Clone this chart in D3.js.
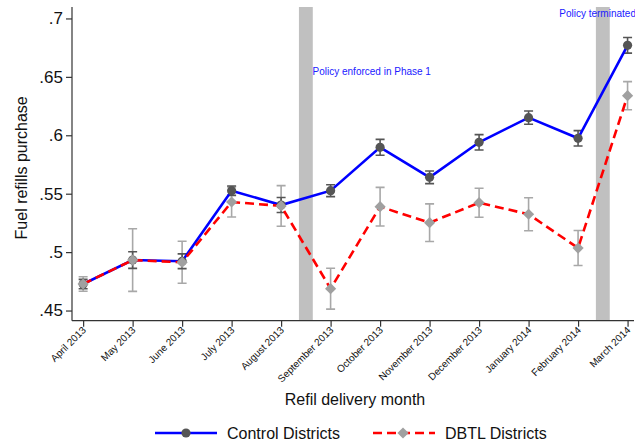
<!DOCTYPE html>
<html>
<head>
<meta charset="utf-8">
<script src="https://cdn.jsdelivr.net/npm/d3@7"></script>
<style>
  html, body { margin: 0; padding: 0; background: #fff; }
  svg { display: block; font-family: "Liberation Sans", Arial, Helvetica, sans-serif; }
</style>
</head>
<body>
<svg id="chart" width="635" height="446"></svg>
<script>
// Monthly share of households purchasing fuel refills, by district group
const months = ["April 2013", "May 2013", "June 2013", "July 2013", "August 2013",
  "September 2013", "October 2013", "November 2013", "December 2013",
  "January 2014", "February 2014", "March 2014"];
const controlMean = [0.4727, 0.4932, 0.4922, 0.5526, 0.5403, 0.5526, 0.5897, 0.5640, 0.5940, 0.6151, 0.5974, 0.6770];
const controlCI   = [0.0040, 0.0071, 0.0063, 0.0040, 0.0064, 0.0051, 0.0068, 0.0054, 0.0066, 0.0057, 0.0066, 0.0067];
const dbtlMean    = [0.4727, 0.4932, 0.4913, 0.5429, 0.5395, 0.4687, 0.5389, 0.5252, 0.5423, 0.5324, 0.5035, 0.6339];
const dbtlCI      = [0.0062, 0.0268, 0.0180, 0.0128, 0.0174, 0.0175, 0.0165, 0.0161, 0.0124, 0.0141, 0.0150, 0.0120];
const yTicks = [0.45, 0.5, 0.55, 0.6, 0.65, 0.7];
const yTickLabels = [".45", ".5", ".55", ".6", ".65", ".7"];
// Policy events, placed between months (month index units)
const policyEvents = [4.5, 10.5];
const policyNotes = ["Policy enforced in Phase 1", "Policy terminated"];

const svg = d3.select("#chart");
const plotL = 72, plotR = 634, plotT = 7, plotB = 320.7;

const x = d3.scaleLinear().domain([-0.225, 11.13]).range([plotL, plotR]);
const y = d3.scaleLinear().domain([0.4413, 0.7098]).range([plotB, plotT]);

const BLUE = "#0000ff", RED = "#ff0000";
const CTRL_MARK = "#555555", DBTL_MARK = "#a0a0a0";
const CTRL_ERR = "#555555", DBTL_ERR = "#a8a8a8";

// Shaded policy bands
const bandW = 0.28;
svg.append("g").selectAll("rect").data(policyEvents).join("rect")
  .attr("x", d => x(d - bandW / 2))
  .attr("width", d => x(d + bandW / 2) - x(d - bandW / 2))
  .attr("y", plotT)
  .attr("height", plotB - plotT)
  .attr("fill", "#c0c0c0");

// Policy annotations
const notePos = [[4.635, 0.6516], [9.62, 0.7013]];
svg.append("g").selectAll("text").data(policyNotes).join("text")
  .attr("x", (d, i) => x(notePos[i][0]))
  .attr("y", (d, i) => y(notePos[i][1]))
  .attr("fill", "#2020ff")
  .attr("font-size", 10)
  .text(d => d);

// Axes
const yAxis = d3.axisLeft(y).tickValues(yTicks)
  .tickFormat((d, i) => yTickLabels[i]).tickSize(6).tickPadding(3);
const gy = svg.append("g").attr("transform", `translate(${plotL},0)`).call(yAxis);
gy.select(".domain").attr("d", `M0,${plotT}V${plotB}`).attr("stroke", "#333").attr("stroke-width", 1.2);
gy.selectAll(".tick line").attr("stroke", "#333").attr("stroke-width", 1.2);
gy.selectAll(".tick text").attr("font-size", 17).attr("fill", "#111")
  .attr("font-family", "Liberation Sans, Arial, sans-serif");

const xAxis = d3.axisBottom(x).tickValues(d3.range(months.length))
  .tickFormat(i => months[i]).tickSize(6).tickPadding(3);
const gx = svg.append("g").attr("transform", `translate(0,${plotB})`).call(xAxis);
gx.select(".domain").attr("d", `M${plotL},0H${plotR}`).attr("stroke", "#333").attr("stroke-width", 1.2);
gx.selectAll(".tick line").attr("stroke", "#333").attr("stroke-width", 1.2);
gx.selectAll(".tick text")
  .attr("font-size", 10).attr("fill", "#111")
  .attr("font-family", "Liberation Sans, Arial, sans-serif")
  .attr("text-anchor", "end")
  .attr("dy", null)
  .attr("transform", "translate(3,10) rotate(-45)")
  .attr("y", 0).attr("x", 0);

// Axis titles
svg.append("text")
  .attr("transform", `translate(27,${(plotT + plotB) / 2 + 4}) rotate(-90)`)
  .attr("text-anchor", "middle").attr("font-size", 16).attr("fill", "#111")
  .text("Fuel refills purchase");
svg.append("text")
  .attr("x", 355).attr("y", 405)
  .attr("text-anchor", "middle").attr("font-size", 16).attr("fill", "#111")
  .text("Refil delivery month");

// Confidence interval caps
function drawCaps(mean, ci, color) {
  const g = svg.append("g").attr("stroke", color).attr("stroke-width", 1.6).attr("fill", "none");
  const cap = 4.5;
  g.selectAll("path").data(mean).join("path")
    .attr("d", (m, i) => {
      const cx = x(i), y0 = y(m - ci[i]), y1 = y(m + ci[i]);
      return `M${cx},${y0}V${y1}M${cx - cap},${y0}H${cx + cap}M${cx - cap},${y1}H${cx + cap}`;
    });
}
drawCaps(dbtlMean, dbtlCI, DBTL_ERR);
drawCaps(controlMean, controlCI, CTRL_ERR);

const line = d3.line().x((d, i) => x(i)).y(d => y(d));
const diamond = s => `M0,${-s}L${s},0L0,${s}L${-s},0Z`;

// Control districts
svg.append("path").datum(controlMean)
  .attr("d", line).attr("fill", "none").attr("stroke", BLUE).attr("stroke-width", 2.6);
svg.append("g").selectAll("circle").data(controlMean).join("circle")
  .attr("cx", (d, i) => x(i)).attr("cy", d => y(d)).attr("r", 4.6).attr("fill", CTRL_MARK);

// DBTL districts
svg.append("path").datum(dbtlMean)
  .attr("d", line).attr("fill", "none").attr("stroke", RED).attr("stroke-width", 2.6)
  .attr("stroke-dasharray", "9,5");
svg.append("g").selectAll("path").data(dbtlMean).join("path")
  .attr("transform", (d, i) => `translate(${x(i)},${y(d)})`)
  .attr("d", diamond(5.6)).attr("fill", DBTL_MARK);

// Legend
const ly = 433;
const lg = svg.append("g");
lg.append("line").attr("x1", 155).attr("x2", 217).attr("y1", ly).attr("y2", ly)
  .attr("stroke", BLUE).attr("stroke-width", 2.6);
lg.append("circle").attr("cx", 186).attr("cy", ly).attr("r", 4.6).attr("fill", CTRL_MARK);
lg.append("text").attr("x", 227).attr("y", ly + 6).attr("font-size", 16).attr("fill", "#111")
  .text("Control Districts");
lg.append("line").attr("x1", 373).attr("x2", 435).attr("y1", ly).attr("y2", ly)
  .attr("stroke", RED).attr("stroke-width", 2.6).attr("stroke-dasharray", "9,5");
lg.append("path").attr("transform", `translate(403,${ly})`).attr("d", diamond(5.6)).attr("fill", DBTL_MARK);
lg.append("text").attr("x", 445).attr("y", ly + 6).attr("font-size", 16).attr("fill", "#111")
  .text("DBTL Districts");
</script>
</body>
</html>
